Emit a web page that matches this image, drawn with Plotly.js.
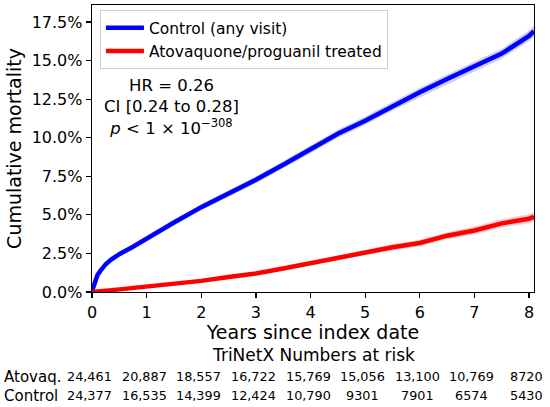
<!DOCTYPE html>
<html>
<head>
<meta charset="utf-8">
<script src="https://cdn.plot.ly/plotly-3.0.1.min.js"></script>
<style>html,body{margin:0;padding:0;background:#fff;}#chart{width:550px;height:407px;}</style>
</head>
<body>
<div id="chart"></div>
<script>
// ---- data (cumulative mortality, %) ----
var years = [0, 0.02, 0.05, 0.1, 0.15, 0.2, 0.25, 0.35, 0.5, 0.75, 1, 1.25, 1.5, 2, 2.5, 3, 3.5, 4, 4.5, 5, 5.5, 6, 6.5, 7, 7.5, 8, 8.09];

var controlMortality = [0.05, 0.3, 0.62, 1.1, 1.35, 1.6, 1.8, 2.1, 2.45, 2.93, 3.47, 4.0, 4.5, 5.5, 6.38, 7.27, 8.25, 9.25, 10.25, 11.1, 12.05, 12.95, 13.8, 14.6, 15.45, 16.6, 16.9];
var controlLower = [0.03, 0.25, 0.54, 1.01, 1.25, 1.49, 1.68, 1.97, 2.31, 2.78, 3.31, 3.83, 4.32, 5.3, 6.17, 7.05, 8.02, 9.0, 9.99, 10.83, 11.77, 12.66, 13.5, 14.29, 15.13, 16.26, 16.55];
var controlUpper = [0.07, 0.35, 0.7, 1.19, 1.45, 1.71, 1.92, 2.23, 2.59, 3.08, 3.63, 4.17, 4.68, 5.7, 6.59, 7.49, 8.48, 9.5, 10.51, 11.37, 12.33, 13.24, 14.1, 14.91, 15.77, 16.94, 17.25];

var atovaqMortality = [0, 0.01, 0.02, 0.03, 0.05, 0.06, 0.08, 0.11, 0.17, 0.26, 0.35, 0.42, 0.5, 0.72, 0.97, 1.2, 1.52, 1.86, 2.24, 2.56, 2.9, 3.18, 3.65, 3.99, 4.45, 4.75, 4.88];
var atovaqLower = [0, 0, 0.01, 0.02, 0.03, 0.04, 0.05, 0.08, 0.13, 0.21, 0.29, 0.36, 0.43, 0.63, 0.87, 1.08, 1.39, 1.71, 2.08, 2.38, 2.71, 2.97, 3.42, 3.74, 4.18, 4.46, 4.58];
var atovaqUpper = [0.01, 0.02, 0.03, 0.04, 0.07, 0.08, 0.11, 0.14, 0.21, 0.31, 0.41, 0.48, 0.57, 0.81, 1.07, 1.32, 1.65, 2.01, 2.4, 2.74, 3.09, 3.39, 3.88, 4.24, 4.72, 5.04, 5.18];

// numbers at risk table
var riskYears = [0, 1, 2, 3, 4, 5, 6, 7, 8];
var atovaqAtRisk = [24461, 20887, 18557, 16722, 15769, 15056, 13100, 10769, 8720];
var controlAtRisk = [24377, 16535, 14399, 12424, 10790, 9301, 7901, 6574, 5430];
var rowLabels = ["Atovaq.", "Control"];

var seriesNames = ["Control (any visit)", "Atovaquone/proguanil treated"];
var statsText = "HR = 0.26<br>CI [0.24 to 0.28]<br><i>p</i> &lt; 1 × 10<sup>−308</sup>";

// ---- helpers ----
function fmt(n) {
  if (n < 10000) return String(n);
  var s = String(n);
  return s.slice(0, s.length - 3) + "," + s.slice(s.length - 3);
}
function band(x, lo, hi, color) {
  return {
    x: x.concat(x.slice().reverse()),
    y: hi.concat(lo.slice().reverse()),
    type: "scatter", mode: "lines", fill: "toself",
    fillcolor: color, line: {width: 0}, hoverinfo: "skip", showlegend: false
  };
}

var FONT = "DejaVu Sans, Verdana, sans-serif";

var traces = [
  band(years, controlLower, controlUpper, "rgba(0,0,255,0.2)"),
  band(years, atovaqLower, atovaqUpper, "rgba(255,0,0,0.2)"),
  {x: years, y: controlMortality, type: "scatter", mode: "lines", name: seriesNames[0],
   line: {color: "#0000ff", width: 4.5}},
  {x: years, y: atovaqMortality, type: "scatter", mode: "lines", name: seriesNames[1],
   line: {color: "#ff0000", width: 4.5}}
];

var annotations = [
  {xref: "x", yref: "y", x: 1.46, y: 12.0, text: statsText, showarrow: false,
   align: "center", xanchor: "center", yanchor: "middle",
   font: {family: FONT, size: 16.5, color: "#000"}},
  {xref: "paper", yref: "paper", x: 0.5, y: -0.22, text: "TriNetX Numbers at risk",
   showarrow: false, xanchor: "center", yanchor: "middle",
   font: {family: FONT, size: 17, color: "#000"}}
];
var rows = [atovaqAtRisk, controlAtRisk];
var rowY = [-0.296, -0.362];
for (var r = 0; r < rows.length; r++) {
  annotations.push({xref: "paper", yref: "paper", x: -0.203, y: rowY[r], text: rowLabels[r],
    showarrow: false, xanchor: "left", yanchor: "middle",
    font: {family: FONT, size: 15, color: "#000"}});
  for (var k = 0; k < riskYears.length; k++) {
    annotations.push({xref: "x", yref: "paper", x: riskYears[k], xshift: -2.5, y: rowY[r],
      text: fmt(rows[r][k]), showarrow: false, xanchor: "center", yanchor: "middle",
      font: {family: FONT, size: 12.8, color: "#000"}});
  }
}

var layout = {
  width: 550, height: 407,
  margin: {l: 92, r: 16, t: 5, b: 115},
  paper_bgcolor: "#fff", plot_bgcolor: "#fff",
  font: {family: FONT, color: "#000"},
  showlegend: true,
  legend: {x: 0.018, y: 0.982, xanchor: "left", yanchor: "top", itemwidth: 38,
    bgcolor: "rgba(255,255,255,0.9)", bordercolor: "#cccccc", borderwidth: 1,
    font: {family: FONT, size: 15.5, color: "#000"}},
  xaxis: {
    range: [0, 8.09], dtick: 1, tick0: 0,
    ticks: "outside", ticklen: 5, tickwidth: 1.2, tickcolor: "#000",
    showline: true, linecolor: "#000", linewidth: 1.3, mirror: true,
    showgrid: false, zeroline: false,
    tickfont: {family: FONT, size: 16, color: "#000"},
    title: {text: "Years since index date", standoff: 0, font: {family: FONT, size: 19, color: "#000"}},
    automargin: false
  },
  yaxis: {
    range: [0, 18.6], dtick: 2.5, tick0: 0, tickformat: ".1f", ticksuffix: "%",
    ticks: "outside", ticklen: 5, tickwidth: 1.2, tickcolor: "#000",
    showline: true, linecolor: "#000", linewidth: 1.3, mirror: true,
    showgrid: false, zeroline: false,
    tickfont: {family: FONT, size: 16, color: "#000"},
    title: {text: "Cumulative mortality", standoff: 5, font: {family: FONT, size: 19, color: "#000"}},
    automargin: false
  },
  annotations: annotations
};

Plotly.newPlot("chart", traces, layout, {displayModeBar: false, staticPlot: true});
</script>
</body>
</html>
